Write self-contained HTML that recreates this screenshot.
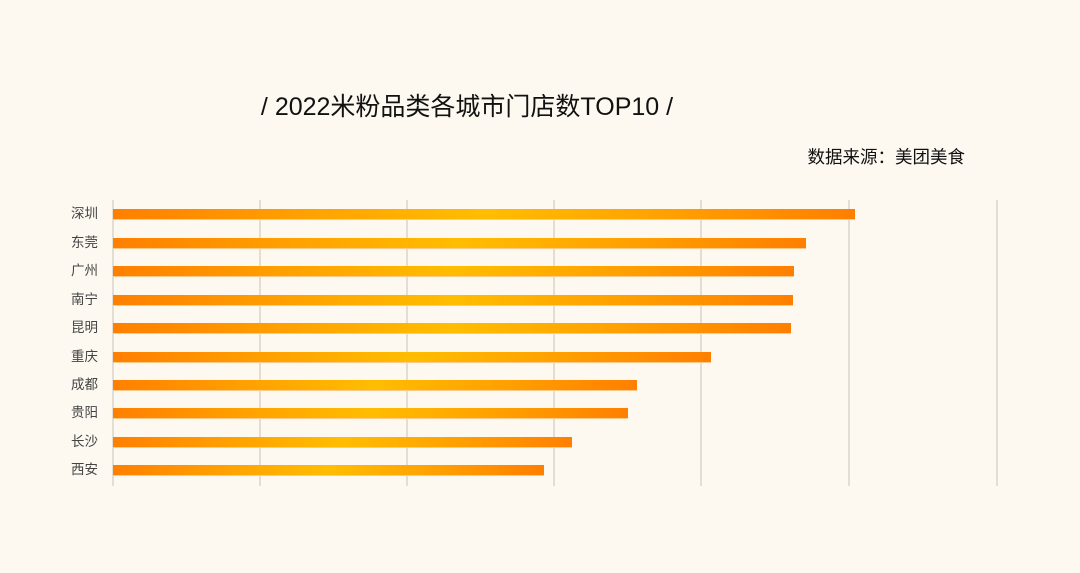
<!DOCTYPE html><html><head><meta charset="utf-8"><style>
body{margin:0;width:1080px;height:573px;background:#fdf9f1;position:relative;overflow:hidden;font-family:"Liberation Sans","Noto Sans CJK SC",sans-serif}
.t{position:absolute;left:0;width:934px;text-align:center;top:87px;font-size:25px;color:#111}
.s{position:absolute;right:115px;top:144px;font-size:17.5px;color:#111}
.g{position:absolute;top:200px;height:286px;width:2px;background:#e3ddd4}
.b{position:absolute;left:113px;height:11px;background:linear-gradient(90deg,#ff7f00,#ffa000 25%,#ffbd00 50%,#ffa000 75%,#ff7f00);border-bottom:1px solid #ffc98a;box-sizing:border-box}
.l{position:absolute;left:71px;font-size:13.5px;color:#444;line-height:16px}
</style></head><body>
<div class="t">/ 2022米粉品类各城市门店数TOP10 /</div>
<div class="s">数据来源：美团美食</div>
<div class="g" style="left:112px"></div><div class="g" style="left:259px"></div><div class="g" style="left:406px"></div><div class="g" style="left:553px"></div><div class="g" style="left:700px"></div><div class="g" style="left:848px"></div><div class="g" style="left:996px"></div>
<div class="b" style="top:209px;width:742px"></div><div class="l" style="top:206px">深圳</div>
<div class="b" style="top:238px;width:693px"></div><div class="l" style="top:235px">东莞</div>
<div class="b" style="top:266px;width:681px"></div><div class="l" style="top:263px">广州</div>
<div class="b" style="top:295px;width:680px"></div><div class="l" style="top:292px">南宁</div>
<div class="b" style="top:323px;width:678px"></div><div class="l" style="top:320px">昆明</div>
<div class="b" style="top:352px;width:598px"></div><div class="l" style="top:349px">重庆</div>
<div class="b" style="top:380px;width:524px"></div><div class="l" style="top:377px">成都</div>
<div class="b" style="top:408px;width:515px"></div><div class="l" style="top:405px">贵阳</div>
<div class="b" style="top:437px;width:459px"></div><div class="l" style="top:434px">长沙</div>
<div class="b" style="top:465px;width:431px"></div><div class="l" style="top:462px">西安</div>
</body></html>
